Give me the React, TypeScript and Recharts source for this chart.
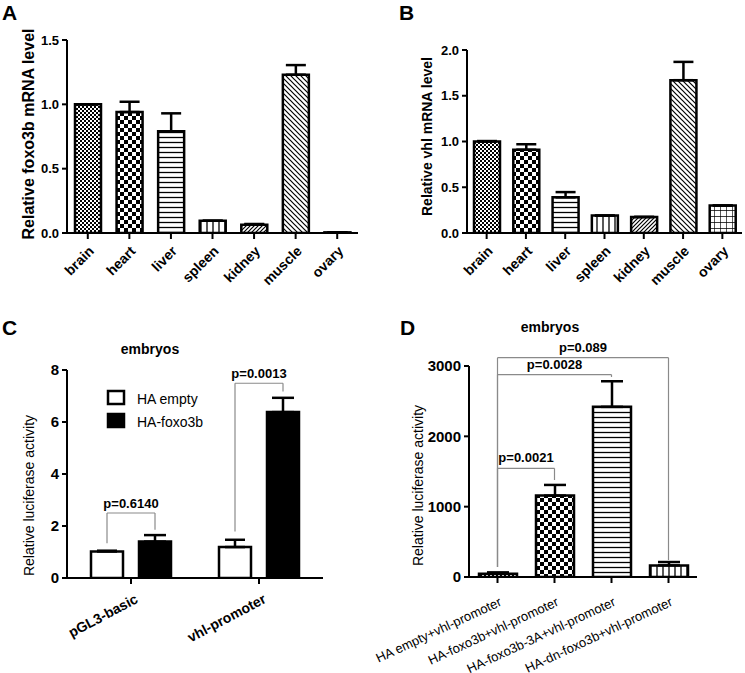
import React from 'react';
import {
    BarChart,
    Bar,
    XAxis,
    YAxis,
    ErrorBar,
    Cell,
    ReferenceLine,
} from 'recharts';

const FONT = '"Liberation Sans", Arial, Helvetica, sans-serif';

// A / B: tissue expression
const tissues = ['brain', 'heart', 'liver', 'spleen', 'kidney', 'muscle', 'ovary'];
const foxo3bLevel = [1.0, 0.94, 0.79, 0.095, 0.065, 1.23, 0.005];
const foxo3bSem = [0, 0.08, 0.14, 0, 0.005, 0.075, 0];
const vhlLevel = [1.0, 0.91, 0.39, 0.19, 0.175, 1.67, 0.3];
const vhlSem = [0.005, 0.06, 0.057, 0, 0, 0.2, 0];
const tissuePatterns = ['fineCheck', 'check', 'hLines', 'vLines', 'diagUp', 'diagDown', 'grid'];

// C: luciferase in embryos, two constructs
const constructs = ['pGL3-basic', 'vhl-promoter'];
const seriesNames = ['HA empty', 'HA-foxo3b'];
const seriesFills = ['#fff', '#000'];
const haEmpty = [1.02, 1.19];
const haEmptySem = [0.03, 0.28];
const haFoxo3b = [1.4, 6.38];
const haFoxo3bSem = [0.25, 0.55];
const cPValues = ['p=0.6140', 'p=0.0013'];
const cBracketTop = [2.5, 7.49];
const cLeftFoot = [1.34, 1.79];
const cRightFoot = [1.86, 7.17];

// D: foxo3b mutants on the vhl promoter
const mutants = [
    'HA empty+vhl-promoter',
    'HA-foxo3b+vhl-promoter',
    'HA-foxo3b-3A+vhl-promoter',
    'HA-dn-foxo3b+vhl-promoter',
];
const mutantLevel = [47, 1157, 2419, 165];
const mutantSem = [19, 152, 364, 48];
const mutantPatterns = ['fineCheck', 'check', 'hLines', 'vLines'];
const dPValues = ['p=0.0021', 'p=0.0028', 'p=0.089'];
const dTarget = [1, 2, 3];
const dBracketTop = [1545, 2877, 3118];
const dLeftFoot = 142;
const dRightFoot = [1379, 2844, 240];

const BRACKET = '#8a8a8a';
const axisLine = { stroke: '#000', strokeWidth: 2 };
const tickLine = { stroke: '#000', strokeWidth: 2 };

const Patterns = ({ id }: { id: string }) => (
    <defs>
        <pattern id={`${id}-fineCheck`} width={4} height={4} patternUnits="userSpaceOnUse">
            <rect width={4} height={4} fill="#fff" />
            <rect width={2} height={2} fill="#000" />
            <rect x={2} y={2} width={2} height={2} fill="#000" />
        </pattern>
        <pattern id={`${id}-check`} width={8} height={8} patternUnits="userSpaceOnUse">
            <rect width={8} height={8} fill="#fff" />
            <rect width={4} height={4} fill="#000" />
            <rect x={4} y={4} width={4} height={4} fill="#000" />
        </pattern>
        <pattern id={`${id}-hLines`} width={5} height={5} patternUnits="userSpaceOnUse">
            <rect width={5} height={5} fill="#fff" />
            <line x1={0} y1={2.5} x2={5} y2={2.5} stroke="#000" strokeWidth={1.3} />
        </pattern>
        <pattern id={`${id}-vLines`} width={6} height={6} patternUnits="userSpaceOnUse">
            <rect width={6} height={6} fill="#fff" />
            <line x1={3} y1={0} x2={3} y2={6} stroke="#000" strokeWidth={1.3} />
        </pattern>
        <pattern id={`${id}-diagUp`} width={4} height={4} patternUnits="userSpaceOnUse">
            <rect width={4} height={4} fill="#fff" />
            <path d="M-1,1 L1,-1 M0,4 L4,0 M3,5 L5,3" stroke="#000" strokeWidth={1.2} />
        </pattern>
        <pattern id={`${id}-diagDown`} width={5} height={5} patternUnits="userSpaceOnUse">
            <rect width={5} height={5} fill="#fff" />
            <path d="M0,0 L5,5 M-1,4 L1,6 M4,-1 L6,1" stroke="#000" strokeWidth={1.2} />
        </pattern>
        <pattern id={`${id}-grid`} width={6} height={6} patternUnits="userSpaceOnUse">
            <rect width={6} height={6} fill="#fff" />
            <path d="M0,0 L6,0 M0,0 L0,6" stroke="#000" strokeWidth={1.3} />
        </pattern>
    </defs>
);

const slantTick =
    (angle: number, dx: number, dy: number, size: number, weight: string) =>
    (props: any) => {
        const { x, y, payload } = props;
        const tx = x + dx;
        const ty = y + dy;
        return (
            <text
                x={tx}
                y={ty}
                transform={`rotate(${angle} ${tx} ${ty})`}
                textAnchor="end"
                fontSize={size}
                fontWeight={weight}
                fontFamily={FONT}
                fill="#000"
            >
                {payload.value}
            </text>
        );
    };

const axisTitle =
    (text: string, x: number, y: number, size: number, weight: string) => () => (
        <text
            x={x}
            y={y}
            transform={`rotate(-90 ${x} ${y})`}
            textAnchor="middle"
            dominantBaseline="central"
            fontSize={size}
            fontWeight={weight}
            fontFamily={FONT}
            fill="#000"
        >
            {text}
        </text>
    );

const numTick = (size: number) => ({
    fill: '#000',
    fontSize: size,
    fontWeight: 'bold',
    fontFamily: FONT,
});

// bracket piece drawn by ReferenceLine, optionally shifted sideways to a bar centre
const bracketShape = (dx1: number, dx2: number) => (props: any) => (
    <line
        x1={props.x1 + dx1}
        y1={props.y1}
        x2={props.x2 + dx2}
        y2={props.y2}
        stroke={BRACKET}
        strokeWidth={1.2}
    />
);

const bracketLabel = (value: string, offset: number) => ({
    value,
    position: 'top' as const,
    offset,
    fill: '#000',
    fontSize: 13,
    fontWeight: 'bold',
    fontFamily: FONT,
});

const tissueRows = (levels: number[], sems: number[]) =>
    tissues.map((tissue, i) => ({ tissue, level: levels[i], err: [0, sems[i]] }));

const TissueChart = ({
    id,
    rows,
    width,
    top,
    right,
    yWidth,
    max,
    ticks,
    title,
    titleX,
    titleY,
    titleSize,
}: any) => (
    <BarChart
        width={width}
        height={330}
        data={rows}
        margin={{ top, right, bottom: 7, left: 0 }}
    >
        <Patterns id={id} />
        <XAxis
            dataKey="tissue"
            height={90}
            interval={0}
            axisLine={axisLine}
            tickLine={tickLine}
            tickSize={6}
            tickMargin={0}
            tick={slantTick(-45, 7, 13, 14, 'bold')}
        />
        <YAxis
            width={yWidth}
            domain={[0, max]}
            ticks={ticks}
            allowDataOverflow
            axisLine={axisLine}
            tickLine={tickLine}
            tickSize={5}
            tickMargin={3}
            tick={numTick(13)}
            tickFormatter={(v: number) => v.toFixed(1)}
            label={axisTitle(title, titleX, titleY, titleSize, 'bold')}
        />
        <Bar dataKey="level" barSize={26} stroke="#000" strokeWidth={2.5} isAnimationActive={false}>
            {rows.map((_: any, i: number) => (
                <Cell key={`cell-${i}`} fill={`url(#${id}-${tissuePatterns[i]})`} />
            ))}
            <ErrorBar dataKey="err" width={10} stroke="#000" strokeWidth={2.5} direction="y" />
        </Bar>
    </BarChart>
);

// C bar layout
const C_BAR = 32;
const C_GAP = 16;
const C_SHIFT = (C_BAR + C_GAP) / 2;

const EmbryoChart = () => {
    const rows = constructs.map((c, i) => ({
        construct: c,
        empty: haEmpty[i],
        emptyErr: [0, haEmptySem[i]],
        foxo: haFoxo3b[i],
        foxoErr: [0, haFoxo3bSem[i]],
    }));
    const brackets = cPValues.flatMap((p, i) => {
        const c = constructs[i];
        const common = { ifOverflow: 'visible' as const, stroke: BRACKET };
        return [
            <ReferenceLine
                key={`cl${i}`}
                {...common}
                segment={[{ x: c, y: cLeftFoot[i] }, { x: c, y: cBracketTop[i] }]}
                shape={bracketShape(-C_SHIFT, -C_SHIFT)}
            />,
            <ReferenceLine
                key={`ct${i}`}
                {...common}
                segment={[{ x: c, y: cBracketTop[i] }, { x: c, y: cBracketTop[i] }]}
                shape={bracketShape(-C_SHIFT, C_SHIFT)}
                label={bracketLabel(p, 5)}
            />,
            <ReferenceLine
                key={`cr${i}`}
                {...common}
                segment={[{ x: c, y: cRightFoot[i] }, { x: c, y: cBracketTop[i] }]}
                shape={bracketShape(C_SHIFT, C_SHIFT)}
            />,
        ];
    });
    return (
        <BarChart
            width={372}
            height={343}
            data={rows}
            margin={{ top: 40, right: 49, bottom: 5, left: 0 }}
            barGap={C_GAP}
        >
            <XAxis
                dataKey="construct"
                height={90}
                interval={0}
                axisLine={axisLine}
                tickLine={tickLine}
                tickSize={6}
                tickMargin={0}
                tick={slantTick(-28, 8, 18, 14, 'bold')}
            />
            <YAxis
                width={67}
                domain={[0, 8]}
                ticks={[0, 2, 4, 6, 8]}
                allowDataOverflow
                axisLine={axisLine}
                tickLine={tickLine}
                tickSize={5}
                tickMargin={3}
                tick={numTick(15)}
                label={axisTitle('Relative luciferase activity', 28.5, 165.5, 14, 'normal')}
            />
            <Bar dataKey="empty" barSize={C_BAR} fill={seriesFills[0]} stroke="#000" strokeWidth={2.5} isAnimationActive={false}>
                <ErrorBar dataKey="emptyErr" width={10} stroke="#000" strokeWidth={2.5} direction="y" />
            </Bar>
            <Bar dataKey="foxo" barSize={C_BAR} fill={seriesFills[1]} stroke="#000" strokeWidth={2.5} isAnimationActive={false}>
                <ErrorBar dataKey="foxoErr" width={11} stroke="#000" strokeWidth={2.5} direction="y" />
            </Bar>
            {brackets}
        </BarChart>
    );
};

const MutantChart = () => {
    const rows = mutants.map((m, i) => ({ mutant: m, level: mutantLevel[i], err: [0, mutantSem[i]] }));
    const origin = mutants[0];
    const brackets = dPValues.flatMap((p, i) => {
        const target = mutants[dTarget[i]];
        const common = { ifOverflow: 'visible' as const, stroke: BRACKET, strokeWidth: 1.2 };
        return [
            <ReferenceLine
                key={`dl${i}`}
                {...common}
                segment={[{ x: origin, y: dLeftFoot }, { x: origin, y: dBracketTop[i] }]}
            />,
            <ReferenceLine
                key={`dt${i}`}
                {...common}
                segment={[{ x: origin, y: dBracketTop[i] }, { x: target, y: dBracketTop[i] }]}
                label={bracketLabel(p, 6)}
            />,
            <ReferenceLine
                key={`dr${i}`}
                {...common}
                segment={[{ x: target, y: dRightFoot[i] }, { x: target, y: dBracketTop[i] }]}
            />,
        ];
    });
    return (
        <BarChart width={373} height={343} data={rows} margin={{ top: 36, right: 48, bottom: 6, left: 0 }}>
            <Patterns id="d" />
            <XAxis
                dataKey="mutant"
                height={90}
                interval={0}
                axisLine={axisLine}
                tickLine={tickLine}
                tickSize={6}
                tickMargin={0}
                tick={slantTick(-25, 5, 22, 13, 'normal')}
            />
            <YAxis
                width={97}
                domain={[0, 3000]}
                ticks={[0, 1000, 2000, 3000]}
                allowDataOverflow
                axisLine={axisLine}
                tickLine={tickLine}
                tickSize={5}
                tickMargin={3}
                tick={numTick(15)}
                label={axisTitle('Relative luciferase activity', 46, 155.5, 14, 'normal')}
            />
            <Bar dataKey="level" barSize={38} stroke="#000" strokeWidth={2.5} isAnimationActive={false}>
                {rows.map((_, i) => (
                    <Cell key={`cell-${i}`} fill={`url(#d-${mutantPatterns[i]})`} />
                ))}
                <ErrorBar dataKey="err" width={11} stroke="#000" strokeWidth={2.5} direction="y" />
            </Bar>
            {brackets}
        </BarChart>
    );
};

const letter = { fontSize: 21, fontWeight: 'bold', fontFamily: FONT, fill: '#000' };

export default function App() {
    return (
        <div style={{ position: 'absolute', left: 0, top: 0, width: 745, height: 673, background: '#fff' }}>
            <div style={{ position: 'absolute', left: 0, top: 0 }}>
                <TissueChart
                    id="a"
                    rows={tissueRows(foxo3bLevel, foxo3bSem)}
                    width={372}
                    top={40}
                    right={14}
                    yWidth={67}
                    max={1.5}
                    ticks={[0, 0.5, 1, 1.5]}
                    title="Relative foxo3b mRNA level"
                    titleX={28}
                    titleY={134}
                    titleSize={16}
                />
            </div>
            <div style={{ position: 'absolute', left: 372, top: 0 }}>
                <TissueChart
                    id="b"
                    rows={tissueRows(vhlLevel, vhlSem)}
                    width={373}
                    top={50}
                    right={3}
                    yWidth={95}
                    max={2}
                    ticks={[0, 0.5, 1, 1.5, 2]}
                    title="Relative vhl mRNA level"
                    titleX={55}
                    titleY={136.5}
                    titleSize={14}
                />
            </div>
            <div style={{ position: 'absolute', left: 0, top: 330 }}>
                <EmbryoChart />
            </div>
            <div style={{ position: 'absolute', left: 372, top: 330 }}>
                <MutantChart />
            </div>
            <svg
                width={745}
                height={673}
                style={{ position: 'absolute', left: 0, top: 0, pointerEvents: 'none' }}
            >
                <text x={2} y={20} {...letter}>A</text>
                <text x={399} y={20} {...letter}>B</text>
                <text x={2} y={335} {...letter}>C</text>
                <text x={400} y={335} {...letter}>D</text>
                <text x={150} y={354} textAnchor="middle" fontSize={14} fontWeight="bold" fontFamily={FONT}>
                    embryos
                </text>
                <text x={550} y={332} textAnchor="middle" fontSize={14} fontWeight="bold" fontFamily={FONT}>
                    embryos
                </text>
                {seriesNames.map((name, i) => (
                    <g key={name}>
                        <rect
                            x={108}
                            y={391 + i * 23}
                            width={16}
                            height={13}
                            fill={seriesFills[i]}
                            stroke="#000"
                            strokeWidth={2.5}
                        />
                        <text x={137} y={404 + i * 23} fontSize={14} fontFamily={FONT} fill="#000">
                            {name}
                        </text>
                    </g>
                ))}
            </svg>
        </div>
    );
}
